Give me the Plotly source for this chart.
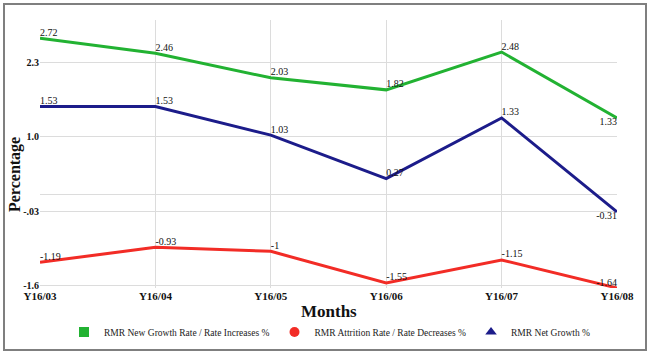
import plotly.graph_objects as go

months = ["Y16/03", "Y16/04", "Y16/05", "Y16/06", "Y16/07", "Y16/08"]
new_growth = [2.72, 2.46, 2.03, 1.82, 2.48, 1.33]
attrition = [-1.19, -0.93, -1.00, -1.55, -1.15, -1.64]
net_growth = [1.53, 1.53, 1.03, 0.27, 1.33, -0.31]
labels_new = ["2.72", "2.46", "2.03", "1.82", "2.48", "1.33"]
labels_attr = ["-1.19", "-0.93", "-1", "-1.55", "-1.15", "-1.64"]
labels_net = ["1.53", "1.53", "1.03", "0.27", "1.33", "-0.31"]
ytick_vals = [-1.6, -0.3, 1.0, 2.3]
ytick_text = ["-1.6", "-.03", "1.0", "2.3"]

names = ["RMR New Growth Rate / Rate Increases %",
         "RMR Attrition Rate / Rate Decreases %",
         "RMR Net Growth %"]
colors = ["#22b232", "#f22c26", "#1c1c8a"]
symbols = ["square", "circle", "triangle-up"]
FONT = "Liberation Serif"

fig = go.Figure()
series = [new_growth, attrition, net_growth]
texts = [labels_new, labels_attr, labels_net]
positions = [
    ["top right"] * 5 + ["bottom left"],
    ["top right"] * 5 + ["top left"],
    ["top right"] * 5 + ["bottom left"],
]
for vals, txt, pos, col in zip(series, texts, positions, colors):
    fig.add_trace(go.Scatter(
        x=months, y=vals, mode="lines+text", text=txt, textposition=pos,
        textfont=dict(family=FONT, size=10, color="#111"),
        line=dict(color=col, width=3), showlegend=False, hoverinfo="skip",
        cliponaxis=False))

for name, col, sym in zip(names, colors, symbols):
    fig.add_trace(go.Scatter(
        x=[None], y=[None], mode="markers", name=name,
        marker=dict(color=col, symbol=sym, size=10)))

fig.update_layout(
    width=650, height=354,
    margin=dict(l=40, r=33, t=20, b=66, autoexpand=False),
    paper_bgcolor="white", plot_bgcolor="white",
    font=dict(family=FONT, color="#111"),
    xaxis=dict(type="category", range=[0, 5], showgrid=True, gridcolor="#dcdcdc",
               showline=False, zeroline=False, ticks="",
               tickfont=dict(family=FONT, size=11, color="#111"),
               tickprefix="<b>", ticksuffix="</b>"),
    yaxis=dict(range=[-1.64, 3.04], tickvals=ytick_vals,
               ticktext=["<b>" + t + "</b>" for t in ytick_text],
               showgrid=True, gridcolor="#dcdcdc", zeroline=True,
               zerolinecolor="#dcdcdc", zerolinewidth=1, showline=False,
               tickfont=dict(family=FONT, size=10, color="#111"), ticklen=0),
    legend=dict(orientation="h", x=(64 - 40) / 577, xanchor="left", y=(288 - 332) / 268,
                yanchor="middle", font=dict(family=FONT, size=9.5, color="#222"),
                itemwidth=30, tracegroupgap=0, bgcolor="rgba(0,0,0,0)"),
    annotations=[
        dict(text="<b>Months</b>", x=0.5, xref="paper", y=(288 - 311) / 268,
             yref="paper", showarrow=False, yanchor="middle",
             font=dict(family=FONT, size=17, color="#111")),
        dict(text="<b>Percentage</b>", x=(15 - 40) / 577, xref="paper",
             y=(288 - 175) / 268, yref="paper", showarrow=False,
             textangle=-90, xanchor="center", yanchor="middle",
             font=dict(family=FONT, size=16, color="#111")),
    ],
    shapes=[dict(type="rect", xref="paper", yref="paper",
                 x0=(4 - 40) / 577, x1=(646 - 40) / 577,
                 y0=(288 - 350) / 268, y1=(288 - 4) / 268,
                 line=dict(color="#7f7f7f", width=2), layer="below")],
)

fig.write_html("out.html")
